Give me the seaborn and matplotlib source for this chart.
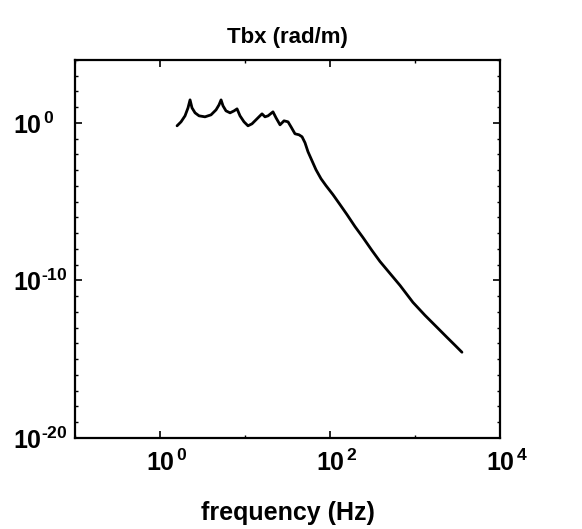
import numpy as np
import pandas as pd
import matplotlib
matplotlib.use("Agg")
import matplotlib.pyplot as plt
from matplotlib.transforms import ScaledTranslation
import seaborn as sns

# Magnitude response of Tbx versus frequency, stored as log10 of both quantities
log_freq = [0.200, 0.247, 0.294, 0.329, 0.353, 0.376, 0.412, 0.459, 0.529, 0.600,
            0.659, 0.694, 0.718, 0.741, 0.776, 0.824, 0.871, 0.906, 0.941, 0.988,
            1.035, 1.082, 1.129, 1.176, 1.200, 1.235, 1.271, 1.329, 1.365, 1.412,
            1.459, 1.506, 1.541, 1.588, 1.635, 1.671, 1.706, 1.741, 1.788, 1.835,
            1.894, 1.953, 2.035, 2.118, 2.200, 2.294, 2.388, 2.494, 2.588, 2.706,
            2.824, 2.976, 3.118, 3.259, 3.376, 3.471, 3.553]
log_mag = [-0.190, 0.063, 0.443, 0.949, 1.456, 0.949, 0.633, 0.443, 0.380, 0.506,
           0.823, 1.139, 1.456, 1.076, 0.759, 0.633, 0.759, 0.886, 0.443, 0.063,
           -0.190, -0.063, 0.190, 0.443, 0.570, 0.380, 0.443, 0.696, 0.316, -0.127,
           0.127, 0.063, -0.253, -0.696, -0.759, -0.886, -1.266, -1.835, -2.405, -2.975,
           -3.544, -3.987, -4.557, -5.190, -5.823, -6.582, -7.278, -8.101, -8.797, -9.557,
           -10.316, -11.392, -12.215, -12.975, -13.608, -14.114, -14.557]

x_ticks = [1e0, 1e2, 1e4]
x_tick_labels = [r"$10^{\,0}$", r"$10^{\,2}$", r"$10^{\,4}$"]
y_ticks = [1e-20, 1e-10, 1e0]
y_tick_labels = ["$10^{\u201020}$", "$10^{\u201010}$", r"$10^{\,0}$"]

df = pd.DataFrame({
    "frequency": np.power(10.0, log_freq),
    "magnitude": np.power(10.0, log_mag),
})

sns.set_style("ticks")
plt.rcParams["font.family"] = ["Liberation Sans", "DejaVu Sans"]
plt.rcParams["font.weight"] = "bold"
plt.rcParams["text.color"] = "black"
plt.rcParams["axes.labelcolor"] = "black"
plt.rcParams["xtick.color"] = "black"
plt.rcParams["ytick.color"] = "black"
plt.rcParams["mathtext.fontset"] = "custom"
plt.rcParams["mathtext.rm"] = "Liberation Sans:bold"
plt.rcParams["mathtext.it"] = "Liberation Sans:bold"
plt.rcParams["mathtext.bf"] = "Liberation Sans:bold"
plt.rcParams["mathtext.default"] = "rm"

fig = plt.figure(figsize=(5.82, 5.29), dpi=100)
ax = fig.add_axes([0.129, 0.172, 0.730, 0.715])

sns.lineplot(data=df, x="frequency", y="magnitude", ax=ax,
             color="black", linewidth=2.0, sort=False, estimator=None)

ax.set_xscale("log")
ax.set_yscale("log")
ax.set_xlim(1e-1, 1e4)
ax.set_ylim(1e-20, 1e4)

ax.xaxis.set_major_locator(matplotlib.ticker.FixedLocator(x_ticks))
ax.xaxis.set_major_formatter(matplotlib.ticker.FixedFormatter(x_tick_labels))
ax.yaxis.set_major_locator(matplotlib.ticker.FixedLocator(y_ticks))
ax.yaxis.set_major_formatter(matplotlib.ticker.FixedFormatter(y_tick_labels))
ax.xaxis.set_minor_locator(matplotlib.ticker.FixedLocator(np.power(10.0, np.arange(-1, 5))))
ax.yaxis.set_minor_locator(matplotlib.ticker.FixedLocator(np.power(10.0, np.arange(-20, 5))))
ax.xaxis.set_minor_formatter(matplotlib.ticker.NullFormatter())
ax.yaxis.set_minor_formatter(matplotlib.ticker.NullFormatter())

ax.tick_params(which="major", direction="in", length=5, width=1.2,
               top=True, right=True, colors="black")
ax.tick_params(axis="x", which="major", labelsize=18, pad=8)
ax.tick_params(axis="y", which="major", labelsize=18, pad=45)
ax.tick_params(which="minor", direction="in", length=2.5, width=1.0,
               top=True, right=True)
for lbl in ax.get_yticklabels():
    lbl.set_horizontalalignment("left")
for lbl in ax.get_xticklabels():
    lbl.set_transform(lbl.get_transform() + ScaledTranslation(5 / 72, 0, fig.dpi_scale_trans))
for side in ax.spines.values():
    side.set_linewidth(1.6)
    side.set_color("black")

ax.set_xlabel("frequency (Hz)", fontsize=18, fontweight="bold", labelpad=18)
ax.set_ylabel("")
ax.set_title("Tbx (rad/m)", fontsize=16, fontweight="bold", pad=12)

fig.savefig("out.png", dpi=100, facecolor="white")
